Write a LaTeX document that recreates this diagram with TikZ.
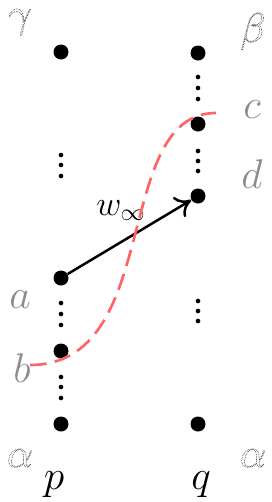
\documentclass[tikz,border=0pt]{standalone}
\usetikzlibrary{arrows.meta}
\definecolor{lred}{RGB}{255,100,100}
\definecolor{lgray}{RGB}{140,140,140}
\definecolor{ggray}{RGB}{90,90,90}
% outlined (dotted stroke) letters
\newcommand{\hollow}[1]{\special{pdf:literal direct 1 Tr 0.4 w [0.5 0.5] 0 d}#1\special{pdf:literal direct 0 Tr [] 0 d}}

\begin{document}
\begin{tikzpicture}[x=0.6pt,y=-0.6pt,
  pt/.style={circle,fill=black,inner sep=0pt,minimum size=9pt},
  lbl/.style={text=lgray,anchor=base,font=\fontsize{23}{26}\selectfont},
  grk/.style={text=ggray,anchor=base,font=\fontsize{32}{36}\selectfont},
  col/.style={anchor=base,font=\fontsize{29}{32}\selectfont},
  arr/.style={-{Computer Modern Rightarrow[length=9pt,width=14pt]},line width=1.5pt},
  wave/.style={lred,line width=1.6pt,dash pattern=on 10pt off 5pt}
]
  \useasboundingbox (0,0) rectangle (272,502);

  % Left column
  \node[pt] (p0) at (61,52) {};
  \node[pt] (pa) at (61,278) {};
  \node[pt] (pb) at (61,351) {};
  \node[pt] (p1) at (61,424) {};

  % Right column
  \node[pt] (q0) at (198,53) {};
  \node[pt] (qc) at (198,124) {};
  \node[pt] (qd) at (198,196) {};
  \node[pt] (q1) at (198,424) {};

  % vertical dots
  \foreach \y in {155,165,176,303,314,325,377,387,398}
    \fill (61,\y) circle (1.4pt);
  \foreach \y in {77,88,99,151,161,171,301,311,321}
    \fill (198,\y) circle (1.4pt);

  % Arrow
  \draw[arr] (pa) -- (qd);
  \node[anchor=base,font=\fontsize{22}{26}\selectfont] (wl) at (121,215) {$w_\infty$};

  % Curve
  \draw[wave] (30,365) .. controls (164,365) and (111,113) .. (216,113);

  % Labels
  \node[lbl] (la) at (20,308) {$a$};
  \node[lbl] (lb) at (22,382) {$b$};
  \node[lbl] (lc) at (252,118) {$c$};
  \node[lbl] (ld) at (252,188) {$d$};

  \node[col] (lp) at (54,489) {$p$};
  \node[col] (lq) at (201,489) {$q$};

  \node[grk] (g1) at (20,27) {\hollow{$\gamma$}};
  \node[grk] (g2) at (253,42) {\hollow{$\beta$}};
  \node[grk] (g3) at (20,467) {\hollow{$\alpha$}};
  \node[grk] (g4) at (253,467) {\hollow{$\alpha$}};
\end{tikzpicture}
\end{document}
